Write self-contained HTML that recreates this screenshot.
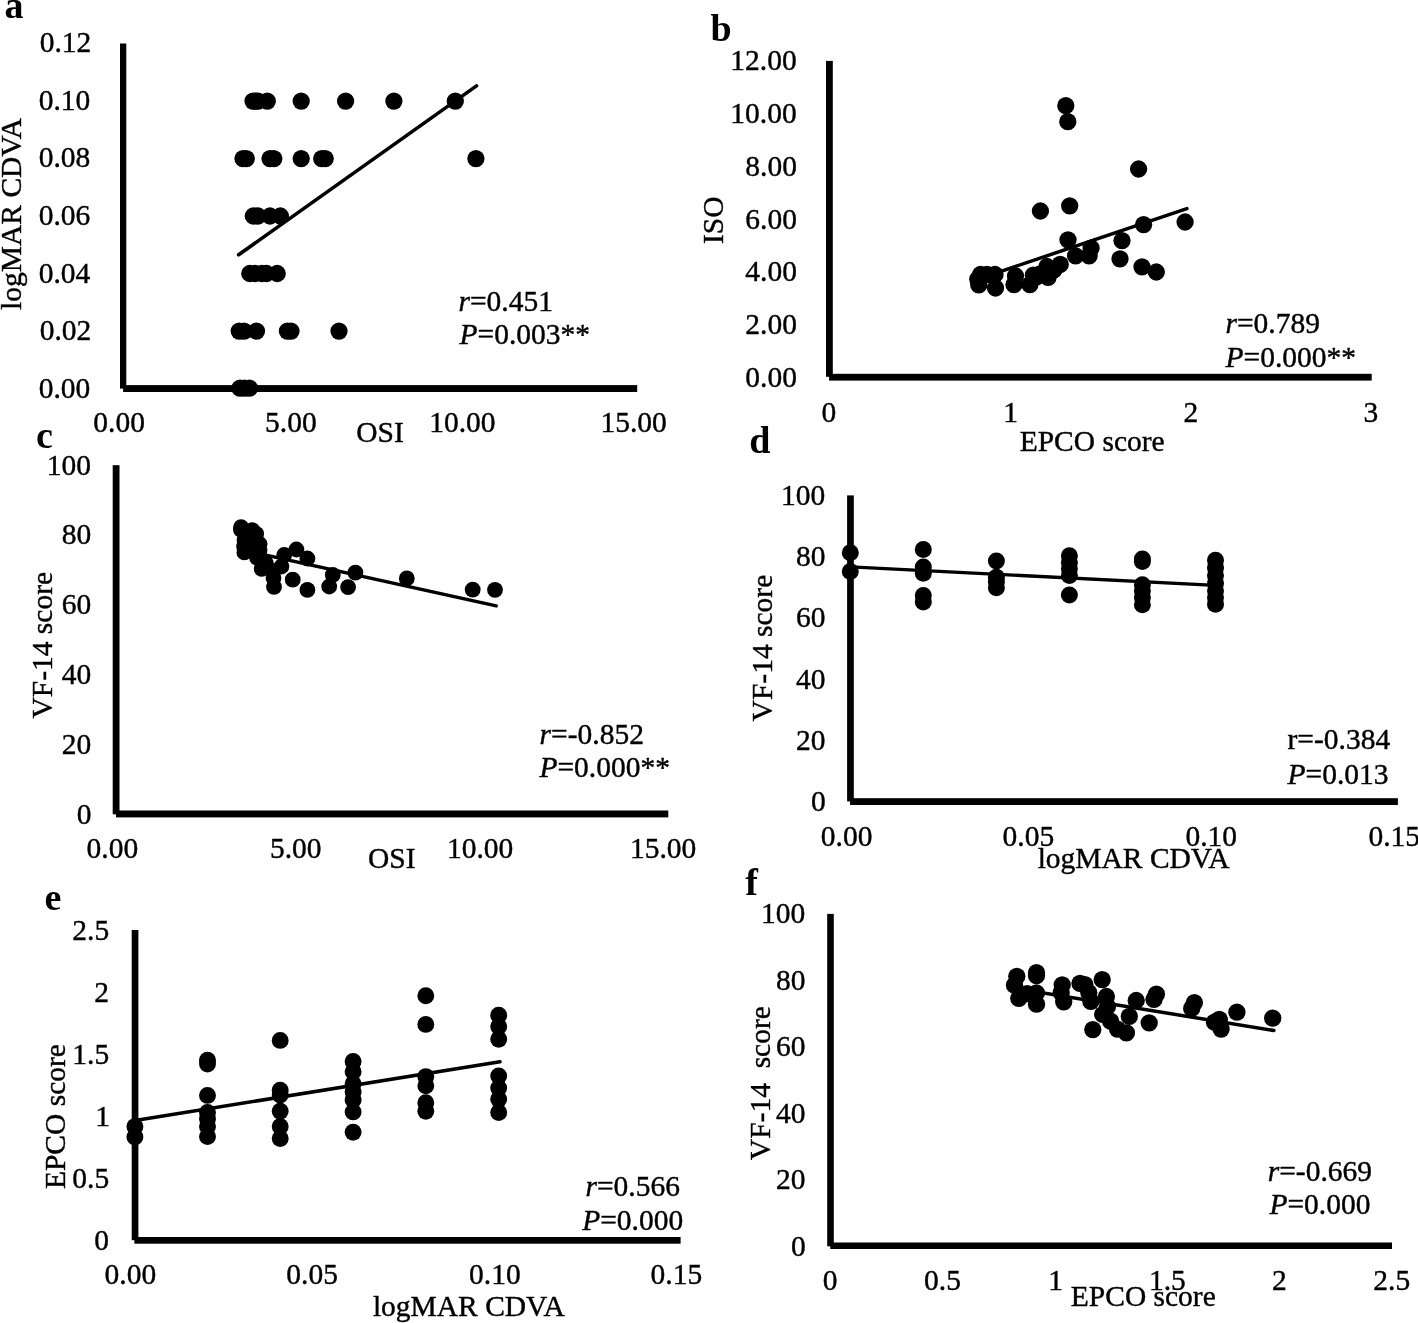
<!DOCTYPE html>
<html><head><meta charset="utf-8"><title>Figure</title>
<style>html,body{margin:0;padding:0;background:#fff;}svg{display:block;filter:grayscale(1);}</style></head>
<body><svg width="1418" height="1323" viewBox="0 0 1418 1323" font-family="'Liberation Serif', serif" fill="#000">
<rect width="1418" height="1323" fill="#fff"/>
<rect x="120.00" y="43.50" width="6.30" height="345.10"/>
<rect x="123.10" y="385.10" width="514.10" height="6.90"/>
<circle cx="253.00" cy="101.10" r="8.65"/>
<circle cx="255.50" cy="101.10" r="8.65"/>
<circle cx="258.00" cy="101.10" r="8.65"/>
<circle cx="267.30" cy="101.10" r="8.65"/>
<circle cx="301.20" cy="101.10" r="8.65"/>
<circle cx="345.60" cy="101.10" r="8.65"/>
<circle cx="393.90" cy="101.10" r="8.65"/>
<circle cx="455.30" cy="101.10" r="8.65"/>
<circle cx="243.00" cy="158.60" r="8.65"/>
<circle cx="246.30" cy="158.60" r="8.65"/>
<circle cx="270.00" cy="158.60" r="8.65"/>
<circle cx="273.80" cy="158.60" r="8.65"/>
<circle cx="301.20" cy="158.60" r="8.65"/>
<circle cx="321.70" cy="158.60" r="8.65"/>
<circle cx="325.20" cy="158.60" r="8.65"/>
<circle cx="475.90" cy="158.60" r="8.65"/>
<circle cx="253.30" cy="216.00" r="8.65"/>
<circle cx="258.00" cy="216.00" r="8.65"/>
<circle cx="270.00" cy="216.00" r="8.65"/>
<circle cx="280.40" cy="216.00" r="8.65"/>
<circle cx="249.80" cy="273.50" r="8.65"/>
<circle cx="255.00" cy="273.50" r="8.65"/>
<circle cx="262.00" cy="273.50" r="8.65"/>
<circle cx="266.50" cy="273.50" r="8.65"/>
<circle cx="277.20" cy="273.50" r="8.65"/>
<circle cx="239.20" cy="331.10" r="8.65"/>
<circle cx="244.00" cy="331.10" r="8.65"/>
<circle cx="256.50" cy="331.10" r="8.65"/>
<circle cx="287.40" cy="331.10" r="8.65"/>
<circle cx="291.00" cy="331.10" r="8.65"/>
<circle cx="339.00" cy="331.10" r="8.65"/>
<circle cx="240.00" cy="388.20" r="8.65"/>
<circle cx="244.50" cy="388.20" r="8.65"/>
<circle cx="249.40" cy="388.20" r="8.65"/>
<line x1="238.60" y1="254.80" x2="476.50" y2="85.90" stroke="#000" stroke-width="3.60" stroke-linecap="round"/>
<rect x="826.00" y="60.90" width="6.80" height="315.90"/>
<rect x="829.10" y="373.80" width="542.60" height="6.80"/>
<circle cx="1065.80" cy="105.70" r="8.65"/>
<circle cx="1067.80" cy="121.70" r="8.65"/>
<circle cx="1138.60" cy="169.00" r="8.65"/>
<circle cx="1040.40" cy="211.00" r="8.65"/>
<circle cx="1069.70" cy="205.90" r="8.65"/>
<circle cx="1143.60" cy="224.60" r="8.65"/>
<circle cx="1185.10" cy="222.00" r="8.65"/>
<circle cx="1068.00" cy="239.80" r="8.65"/>
<circle cx="1122.00" cy="240.60" r="8.65"/>
<circle cx="1091.10" cy="248.10" r="8.65"/>
<circle cx="1120.00" cy="258.90" r="8.65"/>
<circle cx="1142.00" cy="266.90" r="8.65"/>
<circle cx="1156.30" cy="272.00" r="8.65"/>
<circle cx="1075.60" cy="255.90" r="8.65"/>
<circle cx="1089.10" cy="255.90" r="8.65"/>
<circle cx="1060.20" cy="264.40" r="8.65"/>
<circle cx="1048.10" cy="277.30" r="8.65"/>
<circle cx="1029.90" cy="284.60" r="8.65"/>
<circle cx="1033.40" cy="275.20" r="8.65"/>
<circle cx="1014.00" cy="284.60" r="8.65"/>
<circle cx="1015.50" cy="276.00" r="8.65"/>
<circle cx="995.50" cy="288.00" r="8.65"/>
<circle cx="995.00" cy="274.50" r="8.65"/>
<circle cx="987.00" cy="274.50" r="8.65"/>
<circle cx="980.50" cy="274.50" r="8.65"/>
<circle cx="977.80" cy="279.20" r="8.65"/>
<circle cx="978.80" cy="284.90" r="8.65"/>
<circle cx="1047.00" cy="266.50" r="8.65"/>
<circle cx="1054.00" cy="270.00" r="8.65"/>
<circle cx="1040.00" cy="274.00" r="8.65"/>
<circle cx="1036.50" cy="277.00" r="8.65"/>
<line x1="977.00" y1="279.40" x2="1186.90" y2="208.60" stroke="#000" stroke-width="3.50" stroke-linecap="round"/>
<rect x="112.70" y="465.20" width="6.80" height="349.10"/>
<rect x="116.00" y="810.50" width="552.30" height="6.90"/>
<circle cx="241.10" cy="527.10" r="7.90"/>
<circle cx="252.20" cy="530.10" r="7.90"/>
<circle cx="256.20" cy="533.80" r="7.90"/>
<circle cx="259.60" cy="544.00" r="7.90"/>
<circle cx="244.10" cy="546.70" r="7.90"/>
<circle cx="244.40" cy="552.40" r="7.90"/>
<circle cx="241.00" cy="529.70" r="7.90"/>
<circle cx="244.50" cy="540.00" r="7.90"/>
<circle cx="257.00" cy="557.60" r="7.90"/>
<circle cx="261.70" cy="568.80" r="7.90"/>
<circle cx="273.50" cy="578.00" r="7.90"/>
<circle cx="259.50" cy="550.50" r="7.90"/>
<circle cx="274.00" cy="586.80" r="7.90"/>
<circle cx="281.40" cy="566.50" r="7.90"/>
<circle cx="284.20" cy="555.00" r="7.90"/>
<circle cx="296.40" cy="549.50" r="7.90"/>
<circle cx="292.70" cy="579.70" r="7.90"/>
<circle cx="307.40" cy="558.50" r="7.90"/>
<circle cx="307.40" cy="589.90" r="7.90"/>
<circle cx="332.80" cy="574.90" r="7.90"/>
<circle cx="329.20" cy="586.50" r="7.90"/>
<circle cx="355.40" cy="572.60" r="7.90"/>
<circle cx="348.10" cy="587.10" r="7.90"/>
<circle cx="406.80" cy="578.40" r="7.90"/>
<circle cx="472.70" cy="589.60" r="7.90"/>
<circle cx="495.00" cy="589.90" r="7.90"/>
<circle cx="265.80" cy="563.00" r="7.90"/>
<circle cx="272.60" cy="571.20" r="7.90"/>
<circle cx="250.00" cy="540.00" r="7.90"/>
<circle cx="252.00" cy="550.00" r="7.90"/>
<line x1="241.00" y1="549.60" x2="496.20" y2="605.90" stroke="#000" stroke-width="3.50" stroke-linecap="round"/>
<rect x="847.10" y="495.40" width="6.70" height="306.00"/>
<rect x="850.10" y="798.20" width="547.80" height="6.80"/>
<circle cx="850.30" cy="552.70" r="8.50"/>
<circle cx="850.30" cy="571.40" r="8.50"/>
<circle cx="923.30" cy="549.50" r="8.50"/>
<circle cx="923.30" cy="567.10" r="8.50"/>
<circle cx="923.30" cy="573.30" r="8.50"/>
<circle cx="923.30" cy="595.50" r="8.50"/>
<circle cx="923.30" cy="602.10" r="8.50"/>
<circle cx="996.40" cy="561.00" r="8.50"/>
<circle cx="996.40" cy="577.20" r="8.50"/>
<circle cx="996.40" cy="582.00" r="8.50"/>
<circle cx="996.40" cy="587.80" r="8.50"/>
<circle cx="1069.40" cy="555.80" r="8.50"/>
<circle cx="1069.40" cy="562.50" r="8.50"/>
<circle cx="1069.40" cy="568.70" r="8.50"/>
<circle cx="1069.40" cy="575.40" r="8.50"/>
<circle cx="1069.40" cy="595.10" r="8.50"/>
<circle cx="1142.40" cy="559.00" r="8.50"/>
<circle cx="1142.40" cy="561.60" r="8.50"/>
<circle cx="1142.40" cy="584.80" r="8.50"/>
<circle cx="1142.40" cy="590.80" r="8.50"/>
<circle cx="1142.40" cy="597.50" r="8.50"/>
<circle cx="1142.40" cy="604.70" r="8.50"/>
<circle cx="1215.50" cy="560.30" r="8.50"/>
<circle cx="1215.50" cy="567.90" r="8.50"/>
<circle cx="1215.50" cy="575.50" r="8.50"/>
<circle cx="1215.50" cy="583.20" r="8.50"/>
<circle cx="1215.50" cy="590.80" r="8.50"/>
<circle cx="1215.50" cy="597.50" r="8.50"/>
<circle cx="1215.50" cy="604.30" r="8.50"/>
<line x1="850.50" y1="566.80" x2="1215.50" y2="585.40" stroke="#000" stroke-width="3.30" stroke-linecap="round"/>
<rect x="131.70" y="930.00" width="6.70" height="310.20"/>
<rect x="134.40" y="1237.00" width="546.20" height="6.70"/>
<circle cx="134.90" cy="1126.60" r="8.45"/>
<circle cx="134.90" cy="1137.10" r="8.45"/>
<circle cx="207.50" cy="1060.20" r="8.45"/>
<circle cx="207.50" cy="1064.10" r="8.45"/>
<circle cx="207.50" cy="1095.40" r="8.45"/>
<circle cx="207.50" cy="1112.50" r="8.45"/>
<circle cx="207.50" cy="1119.00" r="8.45"/>
<circle cx="207.50" cy="1126.50" r="8.45"/>
<circle cx="207.50" cy="1136.60" r="8.45"/>
<circle cx="280.20" cy="1040.40" r="8.45"/>
<circle cx="280.20" cy="1090.30" r="8.45"/>
<circle cx="280.20" cy="1095.00" r="8.45"/>
<circle cx="280.20" cy="1111.20" r="8.45"/>
<circle cx="280.20" cy="1126.50" r="8.45"/>
<circle cx="280.20" cy="1138.50" r="8.45"/>
<circle cx="353.10" cy="1061.50" r="8.45"/>
<circle cx="353.10" cy="1071.70" r="8.45"/>
<circle cx="353.10" cy="1083.70" r="8.45"/>
<circle cx="353.10" cy="1092.00" r="8.45"/>
<circle cx="353.10" cy="1099.90" r="8.45"/>
<circle cx="353.10" cy="1111.90" r="8.45"/>
<circle cx="353.10" cy="1132.30" r="8.45"/>
<circle cx="425.80" cy="995.80" r="8.45"/>
<circle cx="425.80" cy="1024.40" r="8.45"/>
<circle cx="425.80" cy="1076.60" r="8.45"/>
<circle cx="425.80" cy="1085.80" r="8.45"/>
<circle cx="425.80" cy="1102.70" r="8.45"/>
<circle cx="425.80" cy="1111.20" r="8.45"/>
<circle cx="498.70" cy="1015.30" r="8.45"/>
<circle cx="498.70" cy="1026.50" r="8.45"/>
<circle cx="498.70" cy="1039.20" r="8.45"/>
<circle cx="498.70" cy="1075.90" r="8.45"/>
<circle cx="498.70" cy="1087.90" r="8.45"/>
<circle cx="498.70" cy="1099.20" r="8.45"/>
<circle cx="498.70" cy="1112.60" r="8.45"/>
<line x1="135.00" y1="1120.50" x2="500.00" y2="1061.80" stroke="#000" stroke-width="3.50" stroke-linecap="round"/>
<rect x="827.20" y="913.90" width="6.60" height="332.40"/>
<rect x="830.30" y="1242.50" width="561.70" height="6.50"/>
<circle cx="1016.80" cy="976.30" r="8.65"/>
<circle cx="1014.50" cy="985.20" r="8.65"/>
<circle cx="1018.80" cy="998.30" r="8.65"/>
<circle cx="1036.50" cy="972.70" r="8.65"/>
<circle cx="1036.50" cy="975.60" r="8.65"/>
<circle cx="1036.50" cy="1004.20" r="8.65"/>
<circle cx="1027.10" cy="993.60" r="8.65"/>
<circle cx="1062.20" cy="984.90" r="8.65"/>
<circle cx="1061.20" cy="992.60" r="8.65"/>
<circle cx="1063.70" cy="1001.80" r="8.65"/>
<circle cx="1080.00" cy="983.40" r="8.65"/>
<circle cx="1084.90" cy="984.70" r="8.65"/>
<circle cx="1090.80" cy="1001.30" r="8.65"/>
<circle cx="1102.20" cy="979.60" r="8.65"/>
<circle cx="1106.40" cy="996.50" r="8.65"/>
<circle cx="1102.70" cy="1014.30" r="8.65"/>
<circle cx="1110.60" cy="1021.20" r="8.65"/>
<circle cx="1092.80" cy="1029.60" r="8.65"/>
<circle cx="1117.50" cy="1029.10" r="8.65"/>
<circle cx="1126.40" cy="1032.90" r="8.65"/>
<circle cx="1129.30" cy="1016.30" r="8.65"/>
<circle cx="1136.20" cy="1000.50" r="8.65"/>
<circle cx="1156.40" cy="994.20" r="8.65"/>
<circle cx="1154.00" cy="999.40" r="8.65"/>
<circle cx="1149.20" cy="1022.80" r="8.65"/>
<circle cx="1194.40" cy="1002.60" r="8.65"/>
<circle cx="1191.70" cy="1008.40" r="8.65"/>
<circle cx="1219.30" cy="1019.40" r="8.65"/>
<circle cx="1214.50" cy="1022.20" r="8.65"/>
<circle cx="1221.10" cy="1029.10" r="8.65"/>
<circle cx="1236.90" cy="1012.20" r="8.65"/>
<circle cx="1272.70" cy="1018.20" r="8.65"/>
<circle cx="1107.50" cy="1006.50" r="8.65"/>
<circle cx="1036.50" cy="993.00" r="8.65"/>
<circle cx="1088.80" cy="992.60" r="8.65"/>
<line x1="1015.00" y1="988.30" x2="1273.90" y2="1030.50" stroke="#000" stroke-width="3.50" stroke-linecap="round"/>
<text transform="translate(4.45 18.00) scale(1 1.000)" font-size="38.00" font-weight="bold">a</text>
<text transform="translate(710.40 41.10) scale(1 1.000)" font-size="38.00" font-weight="bold">b</text>
<text transform="translate(35.95 447.65) scale(1 1.000)" font-size="38.00" font-weight="bold">c</text>
<text transform="translate(749.15 452.80) scale(1 1.000)" font-size="38.00" font-weight="bold">d</text>
<text transform="translate(44.40 910.30) scale(1 1.000)" font-size="38.00" font-weight="bold">e</text>
<text transform="translate(745.25 894.65) scale(1 1.000)" font-size="38.00" font-weight="bold">f</text>
<text transform="translate(39.70 52.20) scale(1 1.025)" font-size="29.50" stroke="#000" stroke-width="0.40">0.12</text>
<text transform="translate(38.70 109.80) scale(1 1.025)" font-size="29.50" stroke="#000" stroke-width="0.40">0.10</text>
<text transform="translate(38.70 167.40) scale(1 1.025)" font-size="29.50" stroke="#000" stroke-width="0.40">0.08</text>
<text transform="translate(38.70 225.00) scale(1 1.025)" font-size="29.50" stroke="#000" stroke-width="0.40">0.06</text>
<text transform="translate(38.70 282.60) scale(1 1.025)" font-size="29.50" stroke="#000" stroke-width="0.40">0.04</text>
<text transform="translate(39.70 340.20) scale(1 1.025)" font-size="29.50" stroke="#000" stroke-width="0.40">0.02</text>
<text transform="translate(38.70 397.80) scale(1 1.025)" font-size="29.50" stroke="#000" stroke-width="0.40">0.00</text>
<text transform="translate(93.30 432.20) scale(1 1.025)" font-size="29.50" stroke="#000" stroke-width="0.40">0.00</text>
<text transform="translate(265.10 432.20) scale(1 1.025)" font-size="29.50" stroke="#000" stroke-width="0.40">5.00</text>
<text transform="translate(429.20 432.20) scale(1 1.025)" font-size="29.50" stroke="#000" stroke-width="0.40">10.00</text>
<text transform="translate(600.50 432.20) scale(1 1.025)" font-size="29.50" stroke="#000" stroke-width="0.40">15.00</text>
<text transform="translate(356.25 442.25) scale(1 1.025)" font-size="29.50" stroke="#000" stroke-width="0.40">OSI</text>
<text transform="translate(21.00 309.90) rotate(-90)" font-size="29.50" stroke="#000" stroke-width="0.40">logMAR CDVA</text>
<text transform="translate(458.50 310.75) scale(1 1.025)" font-size="29.50" stroke="#000" stroke-width="0.40"><tspan font-style="italic">r</tspan>=0.451</text>
<text transform="translate(459.50 344.30) scale(1 1.025)" font-size="29.50" stroke="#000" stroke-width="0.40"><tspan font-style="italic">P</tspan>=0.003**</text>
<text transform="translate(730.30 70.20) scale(1 1.025)" font-size="29.50" stroke="#000" stroke-width="0.40">12.00</text>
<text transform="translate(730.30 123.00) scale(1 1.025)" font-size="29.50" stroke="#000" stroke-width="0.40">10.00</text>
<text transform="translate(745.30 175.80) scale(1 1.025)" font-size="29.50" stroke="#000" stroke-width="0.40">8.00</text>
<text transform="translate(745.30 228.60) scale(1 1.025)" font-size="29.50" stroke="#000" stroke-width="0.40">6.00</text>
<text transform="translate(745.30 281.40) scale(1 1.025)" font-size="29.50" stroke="#000" stroke-width="0.40">4.00</text>
<text transform="translate(745.30 334.20) scale(1 1.025)" font-size="29.50" stroke="#000" stroke-width="0.40">2.00</text>
<text transform="translate(745.30 387.00) scale(1 1.025)" font-size="29.50" stroke="#000" stroke-width="0.40">0.00</text>
<text transform="translate(821.60 421.50) scale(1 1.025)" font-size="29.50" stroke="#000" stroke-width="0.40">0</text>
<text transform="translate(1003.20 421.50) scale(1 1.025)" font-size="29.50" stroke="#000" stroke-width="0.40">1</text>
<text transform="translate(1183.50 421.50) scale(1 1.025)" font-size="29.50" stroke="#000" stroke-width="0.40">2</text>
<text transform="translate(1363.60 421.50) scale(1 1.025)" font-size="29.50" stroke="#000" stroke-width="0.40">3</text>
<text transform="translate(1019.70 450.75) scale(1 1.025)" font-size="29.50" stroke="#000" stroke-width="0.40">EPCO score</text>
<text transform="translate(723.25 244.00) rotate(-90)" font-size="29.50" stroke="#000" stroke-width="0.40">ISO</text>
<text transform="translate(1225.50 333.35) scale(1 1.025)" font-size="29.50" stroke="#000" stroke-width="0.40"><tspan font-style="italic">r</tspan>=0.789</text>
<text transform="translate(1225.60 366.90) scale(1 1.025)" font-size="29.50" stroke="#000" stroke-width="0.40"><tspan font-style="italic">P</tspan>=0.000**</text>
<text transform="translate(46.80 474.50) scale(1 1.025)" font-size="29.50" stroke="#000" stroke-width="0.40">100</text>
<text transform="translate(61.80 544.30) scale(1 1.025)" font-size="29.50" stroke="#000" stroke-width="0.40">80</text>
<text transform="translate(61.80 614.10) scale(1 1.025)" font-size="29.50" stroke="#000" stroke-width="0.40">60</text>
<text transform="translate(61.80 683.90) scale(1 1.025)" font-size="29.50" stroke="#000" stroke-width="0.40">40</text>
<text transform="translate(61.80 753.70) scale(1 1.025)" font-size="29.50" stroke="#000" stroke-width="0.40">20</text>
<text transform="translate(76.80 823.50) scale(1 1.025)" font-size="29.50" stroke="#000" stroke-width="0.40">0</text>
<text transform="translate(86.60 857.80) scale(1 1.025)" font-size="29.50" stroke="#000" stroke-width="0.40">0.00</text>
<text transform="translate(270.00 857.80) scale(1 1.025)" font-size="29.50" stroke="#000" stroke-width="0.40">5.00</text>
<text transform="translate(447.00 857.80) scale(1 1.025)" font-size="29.50" stroke="#000" stroke-width="0.40">10.00</text>
<text transform="translate(629.90 857.80) scale(1 1.025)" font-size="29.50" stroke="#000" stroke-width="0.40">15.00</text>
<text transform="translate(368.00 867.70) scale(1 1.025)" font-size="29.50" stroke="#000" stroke-width="0.40">OSI</text>
<text transform="translate(51.70 718.55) rotate(-90)" font-size="29.50" stroke="#000" stroke-width="0.40">VF-14 score</text>
<text transform="translate(539.60 743.50) scale(1 1.025)" font-size="29.50" stroke="#000" stroke-width="0.40"><tspan font-style="italic">r</tspan>=-0.852</text>
<text transform="translate(539.40 777.05) scale(1 1.025)" font-size="29.50" stroke="#000" stroke-width="0.40"><tspan font-style="italic">P</tspan>=0.000**</text>
<text transform="translate(781.00 504.70) scale(1 1.025)" font-size="29.50" stroke="#000" stroke-width="0.40">100</text>
<text transform="translate(796.00 566.00) scale(1 1.025)" font-size="29.50" stroke="#000" stroke-width="0.40">80</text>
<text transform="translate(796.00 627.30) scale(1 1.025)" font-size="29.50" stroke="#000" stroke-width="0.40">60</text>
<text transform="translate(796.00 688.60) scale(1 1.025)" font-size="29.50" stroke="#000" stroke-width="0.40">40</text>
<text transform="translate(796.00 749.90) scale(1 1.025)" font-size="29.50" stroke="#000" stroke-width="0.40">20</text>
<text transform="translate(811.00 811.20) scale(1 1.025)" font-size="29.50" stroke="#000" stroke-width="0.40">0</text>
<text transform="translate(820.80 845.80) scale(1 1.025)" font-size="29.50" stroke="#000" stroke-width="0.40">0.00</text>
<text transform="translate(1002.60 845.80) scale(1 1.025)" font-size="29.50" stroke="#000" stroke-width="0.40">0.05</text>
<text transform="translate(1185.50 845.80) scale(1 1.025)" font-size="29.50" stroke="#000" stroke-width="0.40">0.10</text>
<text transform="translate(1368.40 845.50) scale(1 1.025)" font-size="29.50" stroke="#000" stroke-width="0.40">0.15</text>
<text transform="translate(1037.65 867.60) scale(1 1.025)" font-size="29.50" stroke="#000" stroke-width="0.40">logMAR CDVA</text>
<text transform="translate(771.50 721.40) rotate(-90)" font-size="29.50" stroke="#000" stroke-width="0.40">VF-14 score</text>
<text transform="translate(1287.50 749.45) scale(1 1.025)" font-size="29.50" stroke="#000" stroke-width="0.40">r=-0.384</text>
<text transform="translate(1287.50 783.60) scale(1 1.025)" font-size="29.50" stroke="#000" stroke-width="0.40"><tspan font-style="italic">P</tspan>=0.013</text>
<text transform="translate(72.30 939.80) scale(1 1.025)" font-size="29.50" stroke="#000" stroke-width="0.40">2.5</text>
<text transform="translate(94.30 1001.80) scale(1 1.025)" font-size="29.50" stroke="#000" stroke-width="0.40">2</text>
<text transform="translate(72.30 1063.80) scale(1 1.025)" font-size="29.50" stroke="#000" stroke-width="0.40">1.5</text>
<text transform="translate(95.30 1125.80) scale(1 1.025)" font-size="29.50" stroke="#000" stroke-width="0.40">1</text>
<text transform="translate(72.30 1187.80) scale(1 1.025)" font-size="29.50" stroke="#000" stroke-width="0.40">0.5</text>
<text transform="translate(94.30 1249.80) scale(1 1.025)" font-size="29.50" stroke="#000" stroke-width="0.40">0</text>
<text transform="translate(104.60 1284.40) scale(1 1.025)" font-size="29.50" stroke="#000" stroke-width="0.40">0.00</text>
<text transform="translate(286.30 1284.40) scale(1 1.025)" font-size="29.50" stroke="#000" stroke-width="0.40">0.05</text>
<text transform="translate(469.10 1284.40) scale(1 1.025)" font-size="29.50" stroke="#000" stroke-width="0.40">0.10</text>
<text transform="translate(650.60 1284.40) scale(1 1.025)" font-size="29.50" stroke="#000" stroke-width="0.40">0.15</text>
<text transform="translate(372.90 1315.70) scale(1 1.025)" font-size="29.50" stroke="#000" stroke-width="0.40">logMAR CDVA</text>
<text transform="translate(65.25 1189.10) rotate(-90)" font-size="29.50" stroke="#000" stroke-width="0.40">EPCO score</text>
<text transform="translate(585.50 1196.30) scale(1 1.025)" font-size="29.50" stroke="#000" stroke-width="0.40"><tspan font-style="italic">r</tspan>=0.566</text>
<text transform="translate(582.20 1230.25) scale(1 1.025)" font-size="29.50" stroke="#000" stroke-width="0.40"><tspan font-style="italic">P</tspan>=0.000</text>
<text transform="translate(761.00 923.10) scale(1 1.025)" font-size="29.50" stroke="#000" stroke-width="0.40">100</text>
<text transform="translate(776.00 989.60) scale(1 1.025)" font-size="29.50" stroke="#000" stroke-width="0.40">80</text>
<text transform="translate(776.00 1056.10) scale(1 1.025)" font-size="29.50" stroke="#000" stroke-width="0.40">60</text>
<text transform="translate(776.00 1122.60) scale(1 1.025)" font-size="29.50" stroke="#000" stroke-width="0.40">40</text>
<text transform="translate(776.00 1189.10) scale(1 1.025)" font-size="29.50" stroke="#000" stroke-width="0.40">20</text>
<text transform="translate(791.00 1255.60) scale(1 1.025)" font-size="29.50" stroke="#000" stroke-width="0.40">0</text>
<text transform="translate(822.80 1289.80) scale(1 1.025)" font-size="29.50" stroke="#000" stroke-width="0.40">0</text>
<text transform="translate(924.10 1289.80) scale(1 1.025)" font-size="29.50" stroke="#000" stroke-width="0.40">0.5</text>
<text transform="translate(1048.30 1289.80) scale(1 1.025)" font-size="29.50" stroke="#000" stroke-width="0.40">1</text>
<text transform="translate(1149.00 1289.80) scale(1 1.025)" font-size="29.50" stroke="#000" stroke-width="0.40">1.5</text>
<text transform="translate(1272.00 1289.80) scale(1 1.025)" font-size="29.50" stroke="#000" stroke-width="0.40">2</text>
<text transform="translate(1373.30 1289.80) scale(1 1.025)" font-size="29.50" stroke="#000" stroke-width="0.40">2.5</text>
<text transform="translate(1070.80 1306.15) scale(1 1.025)" font-size="29.50" stroke="#000" stroke-width="0.40">EPCO score</text>
<text transform="translate(770.40 1160.15) rotate(-90)" font-size="29.50" stroke="#000" stroke-width="0.40">VF-14  score</text>
<text transform="translate(1267.70 1180.50) scale(1 1.025)" font-size="29.50" stroke="#000" stroke-width="0.40"><tspan font-style="italic">r</tspan>=-0.669</text>
<text transform="translate(1269.40 1214.15) scale(1 1.025)" font-size="29.50" stroke="#000" stroke-width="0.40"><tspan font-style="italic">P</tspan>=0.000</text>
</svg></body></html>
